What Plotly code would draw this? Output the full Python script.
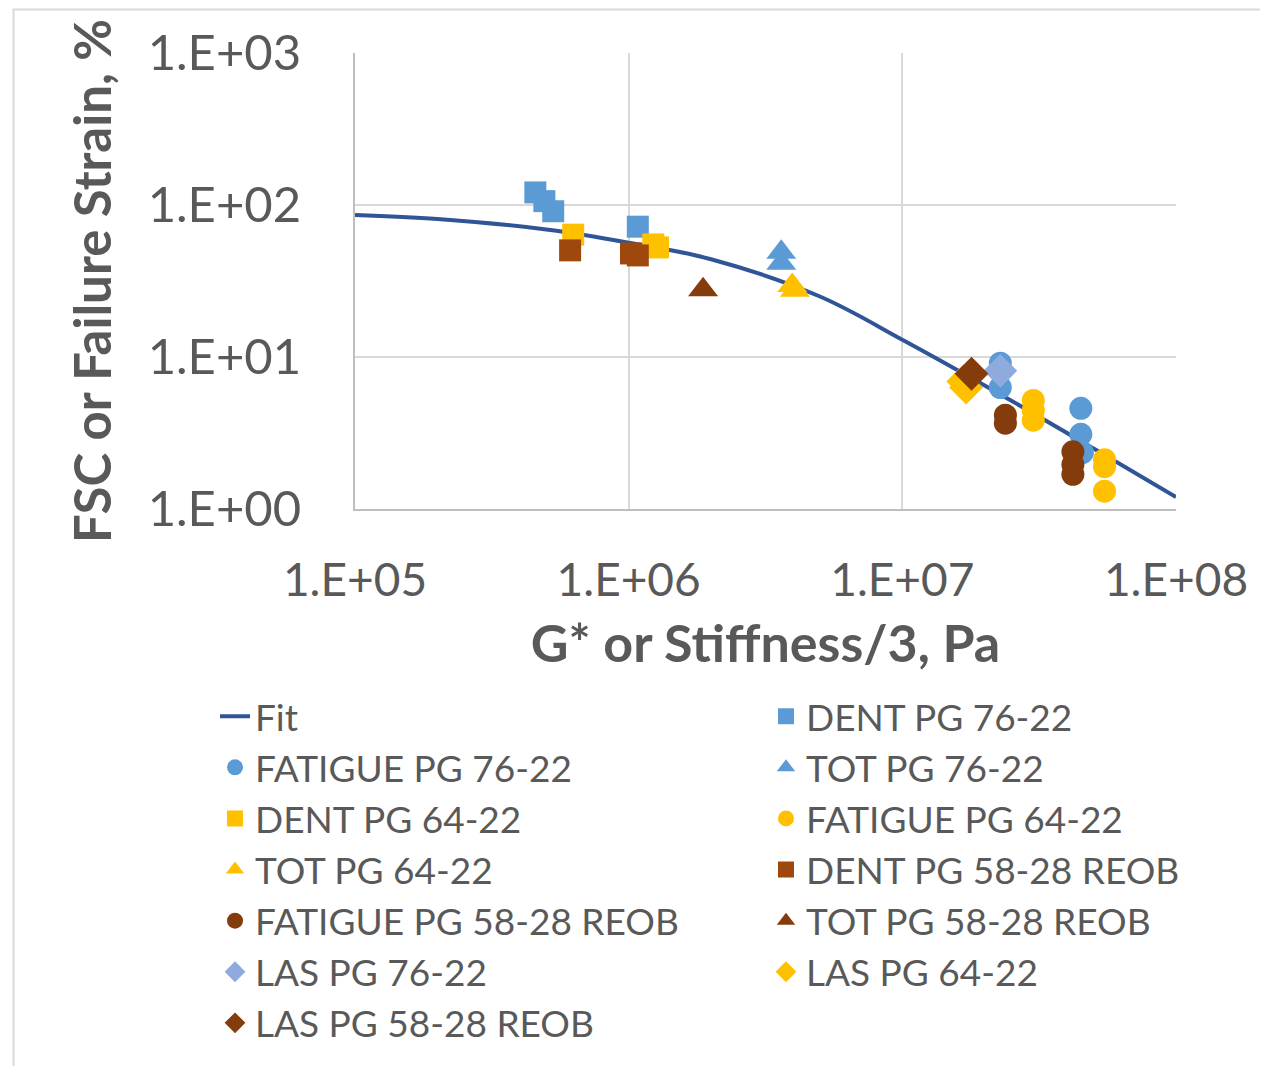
import plotly.graph_objects as go

# ---- data ----
fit_x = [1e5, 2e5, 5e5, 1e6, 2e6, 5e6, 1e7, 2e7, 5e7, 1e8]
fit_y = [86, 81, 69, 56.5, 44, 25, 13, 6.5, 2.5, 1.2]

dent76_x = [4.56e5, 4.92e5, 5.3e5, 1.08e6]
dent76_y = [121, 106, 91, 72]
fat76_x = [2.28e7, 2.28e7, 4.49e7, 4.49e7, 4.55e7]
fat76_y = [9.1, 6.3, 4.6, 3.1, 2.35]
tot76_x = [3.61e6, 3.61e6]
tot76_y = [48.8, 41.4]
dent64_x = [6.27e5, 1.23e6, 1.28e6]
dent64_y = [63.8, 55, 52.6]
fat64_x = [3.01e7, 3.01e7, 3.01e7, 5.48e7, 5.48e7, 5.48e7]
fat64_y = [5.18, 4.46, 3.84, 2.11, 1.90, 1.31]
tot64_x = [3.96e6, 4.05e6]
tot64_y = [29.5, 27.5]
dent58_x = [6.11e5, 1.02e6, 1.08e6]
dent58_y = [50.3, 48, 46.6]
fat58_x = [2.38e7, 2.38e7, 4.2e7, 4.2e7, 4.2e7]
fat58_y = [4.14, 3.67, 2.38, 1.96, 1.69]
tot58_x = [1.87e6]
tot58_y = [27.7]
las76_x = [2.28e7]
las76_y = [8.11]
las64_x = [1.67e7, 1.71e7]
las64_y = [6.9, 6.3]
las58_x = [1.79e7]
las58_y = [7.76]

x_ticks = [1e5, 1e6, 1e7, 1e8]
x_ticklabels = ["1.E+05", "1.E+06", "1.E+07", "1.E+08"]
y_ticks = [1, 10, 100, 1000]
y_ticklabels = ["1.E+00", "1.E+01", "1.E+02", "1.E+03"]

BLUE = "#5B9BD5"
YEL = "#FFC000"
BRN_SQ = "#9E480E"
BRN = "#843C0C"
LBLUE = "#8FAADC"
FIT = "#2F5597"

fig = go.Figure()
fig.add_trace(go.Scatter(x=fit_x, y=fit_y, mode="lines", name="Fit", legend="legend",
                         line=dict(color=FIT, width=4, shape="spline")))

def pts(x, y, name, color, symbol, size, leg):
    fig.add_trace(go.Scatter(x=x, y=y, mode="markers", name=name, legend=leg,
                             marker=dict(color=color, symbol=symbol, size=size,
                                         line=dict(width=0))))

pts(dent76_x, dent76_y, "DENT PG 76-22", BLUE, "square", 22, "legend2")
pts(fat76_x, fat76_y, "FATIGUE PG 76-22", BLUE, "circle", 23, "legend")
pts(tot76_x, tot76_y, "TOT PG 76-22", BLUE, "triangle-up", 26, "legend2")
pts(dent64_x, dent64_y, "DENT PG 64-22", YEL, "square", 22, "legend")
pts(fat64_x, fat64_y, "FATIGUE PG 64-22", YEL, "circle", 23, "legend2")
pts(tot64_x, tot64_y, "TOT PG 64-22", YEL, "triangle-up", 26, "legend")
pts(dent58_x, dent58_y, "DENT PG 58-28 REOB", BRN_SQ, "square", 22, "legend2")
pts(fat58_x, fat58_y, "FATIGUE PG 58-28 REOB", BRN, "circle", 23, "legend")
pts(tot58_x, tot58_y, "TOT PG 58-28 REOB", BRN, "triangle-up", 26, "legend2")
pts(las76_x, las76_y, "LAS PG 76-22", LBLUE, "diamond", 26, "legend")
pts(las64_x, las64_y, "LAS PG 64-22", YEL, "diamond", 26, "legend2")
pts(las58_x, las58_y, "LAS PG 58-28 REOB", BRN, "diamond", 26, "legend")

TXT = "#595959"
FONT = "Lato, Open Sans, sans-serif"

W, H = 1252, 1058
L, T = 347, 45
PW, PH = 827, 462

leg_common = dict(orientation="v", xanchor="left", yanchor="top",
                  font=dict(size=37, color=TXT, family=FONT),
                  bgcolor="rgba(0,0,0,0)", itemsizing="trace")

fig.update_layout(
    width=W, height=H,
    margin=dict(l=L, r=W - L - PW, t=T, b=H - T - PH),
    paper_bgcolor="white", plot_bgcolor="white",
    font=dict(family=FONT, color=TXT),
    showlegend=True,
    legend=dict(x=(206 - L) / PW, y=(T + PH - 686) / PH, **leg_common),
    legend2=dict(x=(761 - L) / PW, y=(T + PH - 686) / PH, **leg_common),
    xaxis=dict(type="log", range=[5, 8], tickvals=x_ticks, ticktext=x_ticklabels,
               showgrid=True, gridcolor="#D9D9D9", gridwidth=2,
               showline=True, linecolor="#BFBFBF", linewidth=2, mirror=False,
               ticks="", tickfont=dict(size=46, color=TXT), zeroline=False,
               ticklabelstandoff=30,
               title=dict(text="<b>G* or Stiffness/3, Pa</b>", font=dict(size=52, color=TXT),
                          standoff=20)),
    yaxis=dict(type="log", range=[0, 3], tickvals=y_ticks, ticktext=y_ticklabels,
               showgrid=True, gridcolor="#D9D9D9", gridwidth=2,
               showline=True, linecolor="#BFBFBF", linewidth=2,
               ticks="", tickfont=dict(size=49, color=TXT), zeroline=False,
               ticklabelstandoff=42,
               title=dict(text="<b>FSC or Failure Strain, %</b>", font=dict(size=51, color=TXT),
                          standoff=20)),
)

# outer chart border (left and top edges visible)
fig.add_shape(type="rect", xref="paper", yref="paper",
              x0=(3 - L) / PW, x1=(W + 20 - L) / PW,
              y0=(T + PH - 1120) / PH, y1=(T + PH - 1) / PH,
              line=dict(color="#D9D9D9", width=2), fillcolor="rgba(0,0,0,0)", layer="below")

fig.write_html("out.html")
